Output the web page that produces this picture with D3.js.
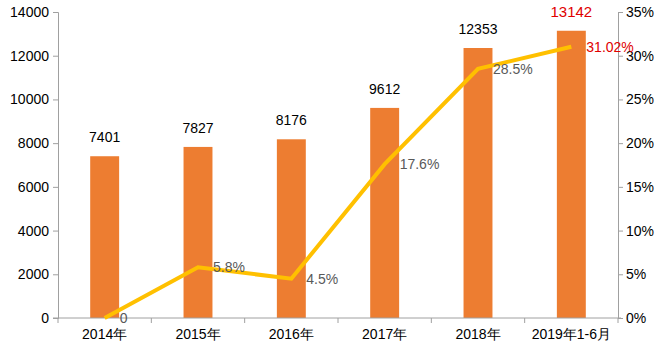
<!DOCTYPE html>
<html>
<head>
<meta charset="utf-8">
<script src="https://cdn.jsdelivr.net/npm/d3@7"></script>
<style>
  body { margin: 0; background: #fff; }
  text { font-family: "Liberation Sans", Arial, sans-serif; }
</style>
</head>
<body>
<div id="chart"></div>
<script>
const categories = ["2014年", "2015年", "2016年", "2017年", "2018年", "2019年1-6月"];
const counts = [7401, 7827, 8176, 9612, 12353, 13142];
const growth = [0, 5.8, 4.5, 17.6, 28.5, 31.02];
const growthLabels = ["0", "5.8%", "4.5%", "17.6%", "28.5%", "31.02%"];
const leftTicks = [0, 2000, 4000, 6000, 8000, 10000, 12000, 14000];
const rightTicks = [0, 5, 10, 15, 20, 25, 30, 35];

const width = 666, height = 351;
const plotLeft = 58, plotRight = 618, plotTop = 12, plotBottom = 318;

const svg = d3.select("#chart").append("svg")
    .attr("width", width)
    .attr("height", height);

const x = d3.scaleBand()
    .domain(categories)
    .range([plotLeft, plotRight])
    .paddingInner(0.69)
    .paddingOuter(0.345);

const xOuter = d3.scaleBand()
    .domain(categories)
    .range([plotLeft, plotRight]);

const y = d3.scaleLinear().domain([0, 14000]).range([plotBottom, plotTop]);
const y2 = d3.scaleLinear().domain([0, 35]).range([plotBottom, plotTop]);

const axisColor = "#a0a0a0";
const last = counts.length - 1;

// bars
svg.append("g").selectAll("rect")
    .data(counts)
    .enter()
    .append("rect")
    .attr("x", (d, i) => x(categories[i]))
    .attr("y", d => y(d))
    .attr("width", x.bandwidth())
    .attr("height", d => plotBottom - y(d))
    .attr("fill", "#ed7d31");

// bar labels
svg.append("g").selectAll("text")
    .data(counts)
    .enter()
    .append("text")
    .attr("x", (d, i) => x(categories[i]) + x.bandwidth() / 2)
    .attr("y", d => y(d) - 14)
    .attr("text-anchor", "middle")
    .style("font-size", (d, i) => i === last ? "15px" : "14px")
    .attr("fill", (d, i) => i === last ? "#e00000" : "#000")
    .text(d => d);

// left axis
const gLeft = svg.append("g")
    .attr("transform", `translate(${plotLeft},0)`)
    .call(d3.axisLeft(y).tickValues(leftTicks).tickSize(5).tickPadding(4).tickFormat(d3.format("d")));
gLeft.select(".domain").attr("stroke", axisColor);
gLeft.selectAll(".tick line").attr("stroke", axisColor);
gLeft.selectAll(".tick text").style("font-size", "14px").attr("fill", "#000");

// right axis
const gRight = svg.append("g")
    .attr("transform", `translate(${plotRight},0)`)
    .call(d3.axisRight(y2).tickValues(rightTicks).tickSize(5).tickPadding(3).tickFormat(d => d + "%"));
gRight.select(".domain").attr("stroke", axisColor);
gRight.selectAll(".tick line").attr("stroke", axisColor);
gRight.selectAll(".tick text").style("font-size", "14px").attr("fill", "#000");

// bottom axis
const gBottom = svg.append("g")
    .attr("transform", `translate(0,${plotBottom})`)
    .call(d3.axisBottom(xOuter).tickSize(0).tickPadding(11));
gBottom.select(".domain").attr("stroke", axisColor).attr("d", `M${plotLeft - 5},0H${plotRight + 3}`);
gBottom.selectAll(".tick text").style("font-size", "14px").attr("fill", "#000");

// band separators
svg.append("g").selectAll("line")
    .data(categories.concat(["end"]))
    .enter()
    .append("line")
    .attr("x1", (d, i) => plotLeft + xOuter.step() * i)
    .attr("x2", (d, i) => plotLeft + xOuter.step() * i)
    .attr("y1", plotBottom)
    .attr("y2", plotBottom + 5)
    .attr("stroke", axisColor);

// growth line
const line = d3.line()
    .x((d, i) => x(categories[i]) + x.bandwidth() / 2)
    .y(d => y2(d));

svg.append("path")
    .datum(growth)
    .attr("d", line)
    .attr("fill", "none")
    .attr("stroke", "#ffc000")
    .attr("stroke-width", 4);

// growth labels
svg.append("g").selectAll("text")
    .data(growth)
    .enter()
    .append("text")
    .attr("x", (d, i) => x(categories[i]) + x.bandwidth() / 2 + 15)
    .attr("y", d => y2(d) + 5)
    .style("font-size", "14px")
    .attr("fill", (d, i) => i === last ? "#e00000" : "#595959")
    .text((d, i) => growthLabels[i]);
</script>
</body>
</html>
